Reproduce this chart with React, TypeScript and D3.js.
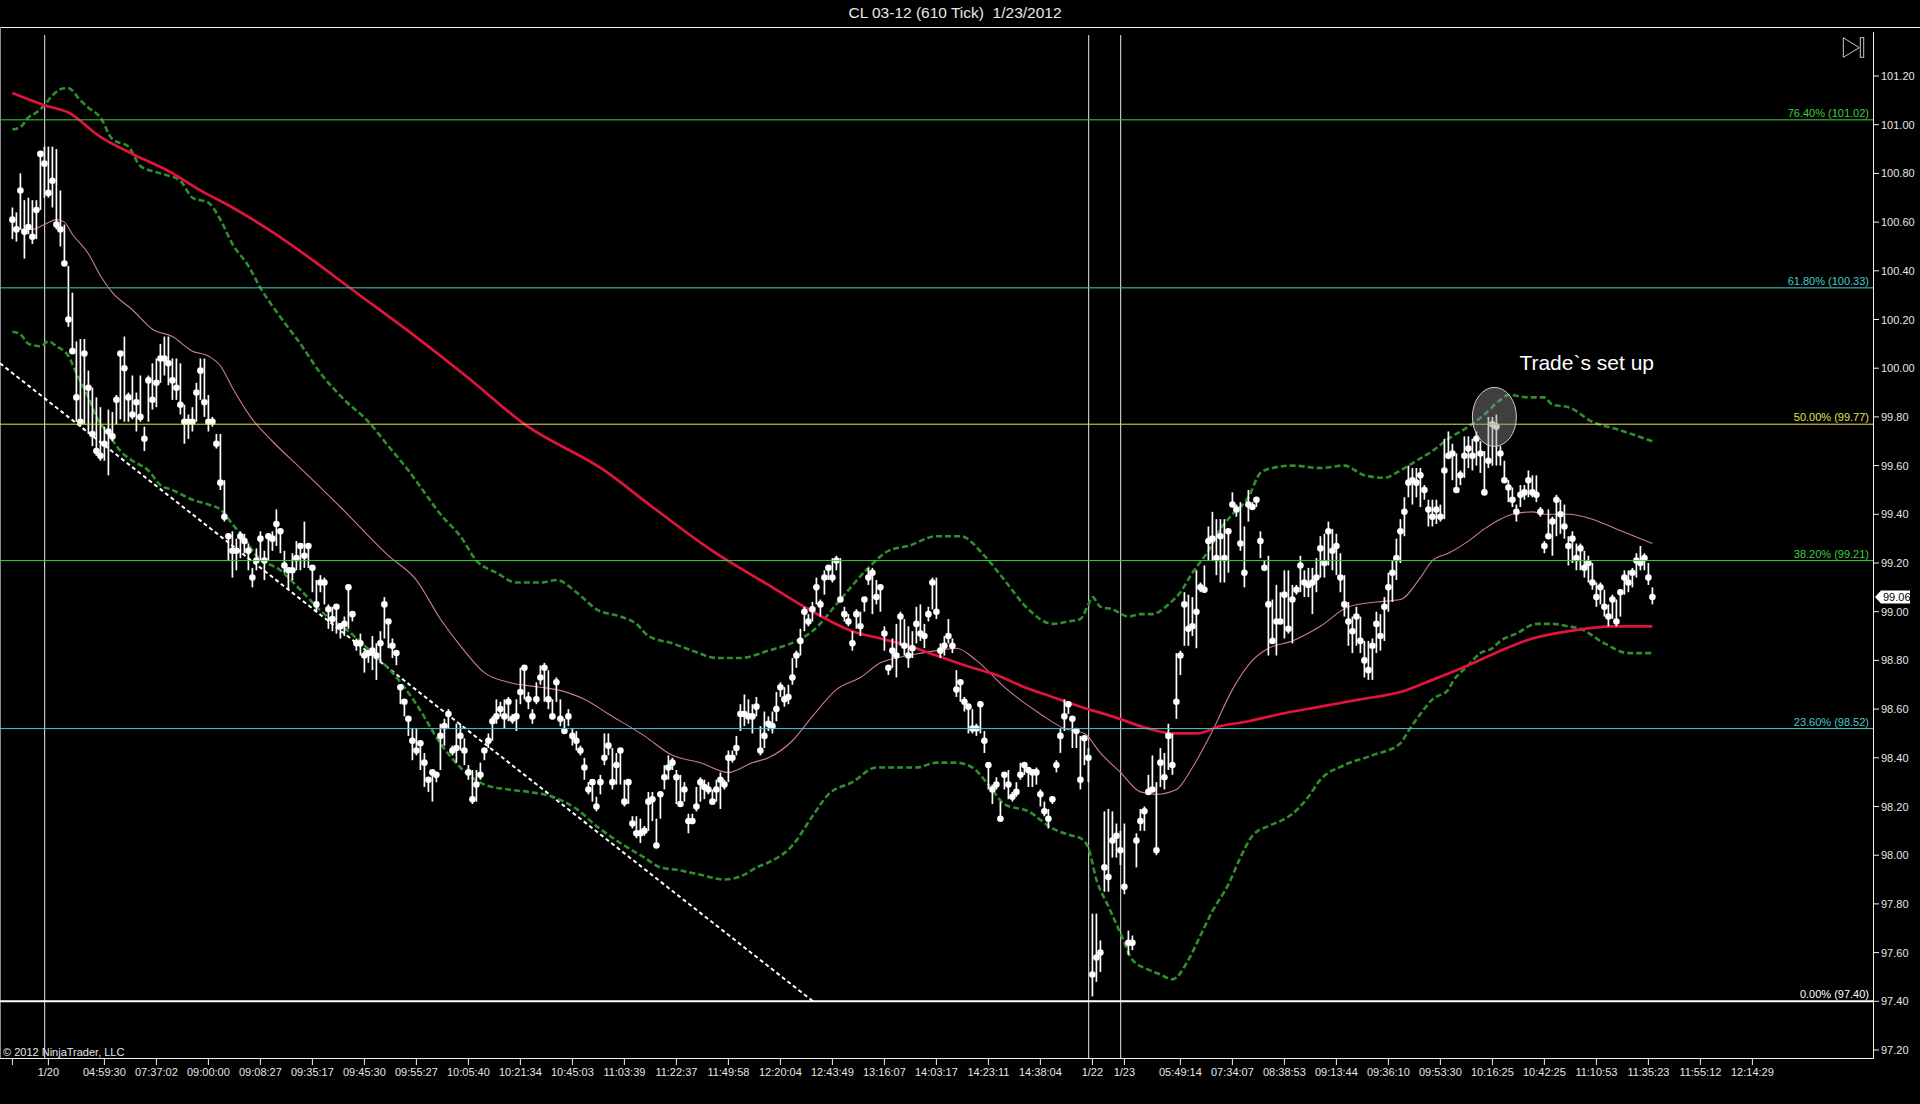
import { curveMonotoneX, line, scaleLinear } from 'd3'

// closing price of every 610-tick bar
const closes = [
  100.61, 100.57, 100.73, 100.56, 100.58, 100.54, 100.65, 100.88, 100.84, 100.72,
  100.77, 100.59, 100.57, 100.43, 100.2, 100.07, 99.88, 99.78, 100.06, 99.92,
  99.73, 99.66, 99.64, 99.69, 99.74, 99.72, 99.87, 100.06, 100.0, 99.88,
  99.81, 99.86, 99.8, 99.71, 99.95, 99.87, 99.94, 100.04, 100.04, 100.02,
  99.95, 99.92, 99.85, 99.78, 99.78, 99.78, 99.9, 99.99, 99.86, 99.78,
  99.78, 99.69, 99.53, 99.39, 99.31, 99.25, 99.25, 99.31, 99.29, 99.25,
  99.14, 99.21, 99.3, 99.21, 99.31, 99.3, 99.36, 99.33, 99.19, 99.17,
  99.17, 99.22, 99.27, 99.23, 99.27, 99.18, 99.03, 99.12, 99.12, 99.01,
  98.97, 99.02, 98.94, 98.95, 99.1, 98.99, 98.87, 98.87, 98.82, 98.83,
  98.84, 98.82, 98.87, 99.03, 98.96, 98.86, 98.83, 98.69, 98.63, 98.56,
  98.47, 98.43, 98.46, 98.38, 98.31, 98.34, 98.33, 98.49, 98.53, 98.58,
  98.43, 98.44, 98.49, 98.43, 98.34, 98.23, 98.29, 98.33, 98.43, 98.47,
  98.55, 98.57, 98.6, 98.57, 98.63, 98.56, 98.57, 98.67, 98.77, 98.64,
  98.57, 98.64, 98.73, 98.77, 98.64, 98.57, 98.71, 98.56, 98.51, 98.57,
  98.49, 98.47, 98.43, 98.36, 98.27, 98.3, 98.2, 98.3, 98.4, 98.45,
  98.3, 98.37, 98.43, 98.22, 98.3, 98.13, 98.09, 98.09, 98.1, 98.22,
  98.23, 98.04, 98.25, 98.32, 98.36, 98.38, 98.32, 98.21, 98.27, 98.14,
  98.14, 98.2, 98.3, 98.28, 98.27, 98.22, 98.27, 98.31, 98.29, 98.4,
  98.4, 98.44, 98.58, 98.58, 98.57, 98.57, 98.61, 98.43, 98.49, 98.54,
  98.53, 98.6, 98.69, 98.64, 98.65, 98.73, 98.82, 98.88, 99.0, 98.96,
  99.01, 99.1, 99.03, 99.14, 99.18, 99.14, 99.21, 99.05, 98.99, 98.96,
  98.87, 98.99, 98.94, 99.05, 99.14, 99.16, 99.06, 99.1, 98.91, 98.77,
  98.84, 98.82, 98.98, 98.86, 98.82, 98.85, 98.95, 98.91, 98.9, 98.99,
  99.12, 99.0, 98.84, 98.86, 98.9, 98.86, 98.68, 98.71, 98.63, 98.61,
  98.52, 98.52, 98.62, 98.47, 98.37, 98.27, 98.29, 98.15, 98.33, 98.29,
  98.24, 98.26, 98.33, 98.37, 98.35, 98.34, 98.34, 98.25, 98.18, 98.15,
  98.23, 98.37, 98.49, 98.57, 98.62, 98.56, 98.51, 98.31, 98.48, 98.4,
  97.51, 97.58, 97.6, 97.95, 97.91, 98.06, 98.08, 98.02, 97.87, 97.64,
  97.64, 98.06, 98.14, 98.18, 98.26, 98.27, 98.02, 98.38, 98.32, 98.49,
  98.37, 98.63, 98.82, 99.03, 98.93, 98.94, 99.0, 99.1, 99.09, 99.29,
  99.3, 99.22, 99.31, 99.22, 99.33, 99.44, 99.42, 99.28, 99.16, 99.44,
  99.43, 99.46, 99.29, 99.18, 99.03, 98.88, 98.96, 98.96, 99.07, 98.93,
  99.05, 99.09, 99.19, 99.12, 99.11, 99.12, 99.14, 99.26, 99.2, 99.33,
  99.25, 99.27, 99.14, 99.03, 98.96, 98.92, 98.98, 98.88, 98.8, 98.76,
  98.86, 98.95, 98.9, 99.02, 99.1, 99.16, 99.22, 99.33, 99.41, 99.53,
  99.54, 99.53, 99.56, 99.5, 99.42, 99.39, 99.42, 99.39, 99.58, 99.64,
  99.65, 99.5, 99.56, 99.64, 99.67, 99.64, 99.71, 99.65, 99.49, 99.62,
  99.77, 99.76, 99.65, 99.54, 99.51, 99.46, 99.41, 99.48, 99.49, 99.54,
  99.49, 99.48, 99.41, 99.27, 99.31, 99.37, 99.46, 99.4, 99.35, 99.27,
  99.3, 99.22, 99.26, 99.18, 99.2, 99.12, 99.06, 99.1, 99.02, 98.98,
  99.05, 98.96, 99.08, 99.14, 99.12, 99.16, 99.21, 99.2, 99.22, 99.14, 99.06,
]

// high above close, in cents
const highOffsets = [
  5, 7, 7, 13, 12, 15, 4, 1, 7, 19, 14, 31, 16, 16, 22, 24, 23, 34, 6, 7,
  19, 22, 20, 7, 9, 10, 2, 1, 13, 2, 16, 4, 17, 5, 2, 15, 10, 6, 9, 11,
  9, 12, 17, 7, 3, 6, 4, 5, 18, 11, 2, 4, 20, 15, 1, 8, 5, 2, 3, 3,
  4, 5, 3, 4, 1, 3, 6, 1, 6, 1, 7, 7, 1, 14, 1, 1, 10, 3, 2, 2,
  5, 1, 1, 3, 1, 1, 2, 4, 2, 1, 6, 5, 5, 3, 1, 3, 1, 1, 1, 1,
  5, 9, 1, 4, 1, 1, 1, 5, 3, 2, 2, 10, 5, 5, 3, 12, 6, 5, 1, 3,
  2, 7, 3, 7, 2, 2, 7, 10, 1, 3, 3, 7, 5, 2, 12, 7, 2, 8, 5, 3,
  3, 4, 2, 4, 3, 1, 4, 3, 10, 5, 14, 5, 1, 9, 1, 3, 7, 6, 2, 4,
  3, 11, 1, 5, 5, 2, 3, 12, 3, 3, 3, 8, 2, 3, 3, 5, 4, 3, 2, 3,
  3, 5, 4, 8, 7, 5, 4, 10, 10, 3, 6, 7, 2, 5, 5, 8, 2, 5, 2, 3,
  3, 4, 2, 3, 1, 8, 2, 17, 3, 3, 5, 2, 6, 1, 4, 2, 7, 1, 3, 1,
  5, 13, 2, 11, 12, 7, 7, 12, 5, 3, 2, 14, 3, 4, 7, 3, 8, 1, 2, 1,
  8, 2, 1, 4, 1, 2, 3, 7, 1, 6, 2, 4, 5, 1, 1, 1, 2, 2, 4, 4,
  1, 2, 3, 7, 1, 1, 1, 18, 1, 4, 25, 18, 5, 23, 28, 12, 5, 8, 26, 5,
  3, 3, 5, 2, 7, 14, 28, 6, 10, 5, 13, 20, 2, 5, 14, 12, 17, 2, 10, 6,
  11, 16, 7, 16, 1, 5, 2, 17, 19, 6, 2, 1, 4, 3, 20, 17, 15, 12, 10, 24,
  6, 2, 4, 5, 7, 6, 8, 5, 12, 4, 9, 5, 10, 12, 8, 6, 4, 10, 8, 12,
  3, 5, 9, 4, 6, 5, 8, 5, 6, 7, 5, 6, 3, 2, 4, 7, 4, 5, 13, 10,
  4, 15, 2, 8, 5, 7, 3, 5, 17, 18, 3, 5, 3, 8, 3, 5, 3, 4, 3, 4,
  7, 8, 2, 2, 11, 2, 2, 6, 9, 4, 3, 6, 2, 7, 3, 8, 6, 2, 7, 5,
  2, 9, 1, 3, 5, 2, 3, 7, 2, 6, 4,
]

// low below close, in cents
const lowOffsets = [
  8, 5, 16, 11, 3, 3, 12, 23, 14, 2, 11, 2, 7, 1, 3, 1, 10, 2, 29, 19,
  5, 2, 2, 7, 18, 2, 10, 27, 22, 10, 2, 12, 2, 5, 17, 4, 10, 10, 7, 9,
  8, 5, 4, 9, 7, 4, 12, 12, 6, 4, 2, 2, 3, 2, 10, 11, 8, 9, 5, 8,
  4, 4, 9, 8, 10, 5, 9, 9, 3, 8, 4, 5, 10, 5, 9, 10, 3, 4, 9, 8,
  5, 11, 5, 5, 17, 3, 3, 5, 7, 4, 8, 10, 8, 14, 11, 5, 5, 7, 6, 7,
  8, 2, 11, 10, 5, 12, 3, 14, 8, 6, 2, 6, 6, 6, 3, 2, 7, 2, 4, 3,
  8, 3, 3, 5, 8, 2, 6, 5, 13, 4, 3, 2, 3, 14, 4, 1, 8, 3, 1, 4,
  4, 4, 2, 5, 2, 8, 2, 5, 3, 4, 3, 8, 14, 2, 9, 2, 2, 4, 2, 12,
  9, 1, 10, 5, 5, 3, 11, 1, 5, 5, 1, 2, 8, 5, 2, 1, 5, 12, 2, 10,
  2, 3, 7, 5, 3, 7, 4, 2, 5, 3, 3, 5, 4, 3, 3, 3, 5, 6, 8, 2,
  5, 7, 5, 7, 5, 2, 4, 1, 3, 2, 3, 6, 4, 5, 3, 17, 3, 10, 7, 3,
  7, 9, 12, 4, 5, 4, 8, 3, 5, 3, 11, 3, 3, 4, 3, 3, 3, 8, 4, 11,
  2, 3, 12, 5, 10, 6, 2, 1, 6, 6, 2, 2, 2, 4, 7, 6, 5, 5, 2, 4,
  2, 3, 7, 6, 4, 12, 7, 4, 11, 10, 9, 10, 8, 10, 6, 7, 9, 6, 3, 5,
  3, 11, 4, 8, 1, 1, 2, 10, 5, 14, 4, 7, 8, 17, 7, 4, 15, 2, 1, 8,
  9, 7, 19, 10, 17, 1, 3, 3, 6, 7, 1, 3, 7, 1, 21, 1, 14, 1, 18, 2,
  18, 2, 11, 6, 5, 13, 6, 12, 6, 14, 8, 12, 6, 5, 10, 9, 12, 5, 7, 4,
  14, 12, 6, 14, 10, 12, 9, 13, 10, 6, 10, 6, 13, 4, 7, 4, 6, 2, 20, 1,
  11, 1, 4, 9, 8, 6, 11, 8, 1, 3, 17, 16, 5, 1, 6, 3, 4, 5, 3, 7,
  2, 3, 2, 3, 1, 14, 15, 8, 5, 8, 10, 5, 9, 4, 8, 3, 4, 7, 4, 4,
  8, 2, 10, 7, 4, 6, 7, 3, 5, 3, 3,
]

// indicator lines, [bar index, price]
const slowAverage = [
  [0, 101.13], [8, 101.08], [14, 101.05], [22, 100.95], [30, 100.88], [39, 100.81],
  [47, 100.73], [55, 100.66], [64, 100.57], [72, 100.48], [86, 100.31], [100, 100.14],
  [114, 99.96], [128, 99.77], [148, 99.58], [160, 99.43], [175, 99.25], [189, 99.11],
  [199, 99.01], [210, 98.92], [217, 98.89], [224, 98.86], [231, 98.82], [238, 98.78],
  [246, 98.74], [253, 98.69], [260, 98.65], [267, 98.61], [275, 98.57], [284, 98.52],
  [290, 98.5], [296, 98.5], [302, 98.53], [309, 98.55], [317, 98.58], [327, 98.61],
  [337, 98.64], [347, 98.67], [355, 98.72], [364, 98.78], [372, 98.84], [380, 98.89],
  [389, 98.92], [400, 98.94], [410, 98.94],
]

const fastAverage = [
  [0, 100.57], [5, 100.57], [8, 100.59], [11, 100.61], [13, 100.6], [15, 100.55],
  [19, 100.47], [22, 100.38], [25, 100.31], [30, 100.24], [35, 100.16], [40, 100.13],
  [45, 100.07], [49, 100.05], [52, 100.01], [55, 99.92], [60, 99.79], [65, 99.7],
  [72, 99.59], [82, 99.43], [94, 99.23], [101, 99.13], [107, 98.97], [112, 98.86],
  [118, 98.75], [124, 98.71], [132, 98.69], [136, 98.68], [143, 98.64], [149, 98.58],
  [158, 98.49], [165, 98.41], [172, 98.38], [179, 98.34], [185, 98.38], [189, 98.4],
  [195, 98.47], [200, 98.57], [206, 98.68], [212, 98.73], [217, 98.79], [224, 98.82],
  [231, 98.84], [236, 98.85], [241, 98.8], [248, 98.69], [257, 98.58], [263, 98.52],
  [268, 98.5], [272, 98.42], [277, 98.34], [282, 98.26], [286, 98.25], [291, 98.27],
  [295, 98.36], [300, 98.51], [305, 98.68], [310, 98.8], [314, 98.85], [320, 98.88],
  [327, 98.94], [334, 99.02], [341, 99.04], [347, 99.05], [352, 99.14], [355, 99.21],
  [359, 99.24], [364, 99.29], [368, 99.34], [372, 99.38], [375, 99.4], [380, 99.41],
  [383, 99.4], [389, 99.4], [395, 99.38], [401, 99.34], [410, 99.28],
]

const upperBand = [
  [0, 100.98], [2, 100.99], [4, 101.03], [6, 101.05], [8, 101.08], [10, 101.12],
  [13, 101.15], [14, 101.15], [17, 101.1], [19, 101.07], [22, 101.03], [25, 100.94],
  [29, 100.91], [32, 100.83], [37, 100.8], [42, 100.77], [45, 100.7], [49, 100.68],
  [52, 100.61], [55, 100.51], [59, 100.42], [62, 100.33], [67, 100.21], [72, 100.1],
  [77, 99.98], [83, 99.87], [89, 99.78], [94, 99.68], [99, 99.58], [103, 99.49],
  [107, 99.4], [112, 99.31], [116, 99.21], [121, 99.16], [126, 99.12], [132, 99.12],
  [136, 99.13], [141, 99.08], [146, 99.01], [152, 98.98], [156, 98.95], [159, 98.9],
  [165, 98.87], [170, 98.84], [176, 98.81], [182, 98.81], [189, 98.84], [196, 98.88],
  [200, 98.92], [207, 99.05], [214, 99.18], [219, 99.25], [224, 99.27], [231, 99.31],
  [237, 99.31], [243, 99.23], [248, 99.13], [254, 99.01], [260, 98.95], [264, 98.96],
  [267, 98.97], [269, 99.03], [270, 99.06], [272, 99.02], [275, 99.01], [279, 98.98],
  [282, 98.99], [285, 98.99], [289, 99.03], [292, 99.08], [295, 99.16], [299, 99.25],
  [302, 99.34], [305, 99.4], [309, 99.47], [312, 99.57], [315, 99.59], [320, 99.6],
  [327, 99.59], [333, 99.6], [338, 99.56], [343, 99.55], [347, 99.58], [351, 99.62],
  [355, 99.66], [359, 99.71], [364, 99.76], [368, 99.81], [372, 99.87], [374, 99.89],
  [379, 99.88], [383, 99.88], [385, 99.85], [389, 99.84], [395, 99.78], [401, 99.75],
  [410, 99.7],
]

const lowerBand = [
  [0, 100.15], [2, 100.14], [4, 100.1], [7, 100.09], [9, 100.11], [11, 100.09],
  [14, 100.05], [16, 99.98], [19, 99.88], [21, 99.8], [24, 99.73], [27, 99.66],
  [30, 99.62], [34, 99.58], [37, 99.52], [40, 99.5], [45, 99.46], [49, 99.44],
  [52, 99.42], [55, 99.36], [58, 99.3], [61, 99.23], [67, 99.17], [72, 99.09],
  [78, 98.99], [84, 98.92], [90, 98.83], [95, 98.75], [101, 98.62], [107, 98.46],
  [112, 98.36], [118, 98.29], [124, 98.27], [129, 98.26], [135, 98.24], [141, 98.19],
  [146, 98.12], [152, 98.05], [158, 97.99], [162, 97.95], [166, 97.94], [172, 97.92],
  [178, 97.9], [183, 97.92], [186, 97.95], [189, 97.97], [195, 98.04], [200, 98.16],
  [204, 98.25], [210, 98.3], [216, 98.36], [221, 98.36], [226, 98.36], [231, 98.38],
  [236, 98.38], [240, 98.36], [244, 98.29], [248, 98.21], [254, 98.18], [260, 98.11],
  [265, 98.08], [267, 98.07], [269, 98.03], [271, 97.9], [274, 97.79], [277, 97.68],
  [280, 97.57], [284, 97.53], [287, 97.51], [290, 97.49], [294, 97.57], [297, 97.67],
  [300, 97.77], [304, 97.88], [307, 97.99], [310, 98.08], [314, 98.12], [317, 98.14],
  [320, 98.17], [324, 98.24], [327, 98.31], [333, 98.37], [340, 98.41], [347, 98.46],
  [349, 98.51], [352, 98.58], [355, 98.64], [359, 98.68], [360, 98.71], [364, 98.78],
  [367, 98.83], [370, 98.85], [372, 98.88], [376, 98.91], [381, 98.95], [385, 98.95],
  [389, 98.94], [392, 98.93], [398, 98.87], [404, 98.83], [410, 98.83],
]

const trendLine = [[-3.1, 100.02], [200.15, 97.4]]

const priceTicks = [
  97.2, 97.4, 97.6, 97.8, 98.0, 98.2, 98.4, 98.6, 98.8, 99.0, 99.2,
  99.4, 99.6, 99.8, 100.0, 100.2, 100.4, 100.6, 100.8, 101.0, 101.2,
]

const timeTickBars = [
  0, 9, 23, 36, 49, 62, 75, 88, 101, 114, 127, 140, 153, 166, 179, 192, 205, 218,
  231, 244, 257, 270, 278, 292, 305, 318, 331, 344, 357, 370, 383, 396, 409, 422, 435,
]
const timeTickLabels = [
  '', '1/20', '04:59:30', '07:37:02', '09:00:00', '09:08:27', '09:35:17', '09:45:30',
  '09:55:27', '10:05:40', '10:21:34', '10:45:03', '11:03:39', '11:22:37', '11:49:58',
  '12:20:04', '12:43:49', '13:16:07', '14:03:17', '14:23:11', '14:38:04', '1/22', '1/23',
  '05:49:14', '07:34:07', '08:38:53', '09:13:44', '09:36:10', '09:53:30', '10:16:25',
  '10:42:25', '11:10:53', '11:35:23', '11:55:12', '12:14:29',
]

const sessionBreakBars = [8, 269, 277]

const fibRatios = ['76.40%', '61.80%', '50.00%', '38.20%', '23.60%', '0.00%']
const fibPrices = [101.02, 100.33, 99.77, 99.21, 98.52, 97.4]

const setupBar = 370.5
const setupPrice = 99.8

const fibColor: Record<string, string> = {
  '76.40%': '#3ccf3c',
  '61.80%': '#48c9c9',
  '50.00%': '#e2e25e',
  '38.20%': '#3ccf3c',
  '23.60%': '#48c9c9',
  '0.00%': '#ffffff',
}

const width = 1920
const height = 1104
const plot = { left: 0, right: 1873, top: 27, bottom: 1058 }
const font = '"Liberation Sans", Arial, sans-serif'

export default function App() {
  const x = scaleLinear().domain([0, closes.length - 1]).range([12.4, 12.4 + 4 * (closes.length - 1)])
  const y = scaleLinear().domain([97.2, 101.2]).range([1050, 76])

  const path = line<number[]>()
    .x((d) => x(d[0]))
    .y((d) => y(d[1]))
    .curve(curveMonotoneX)

  const lastPrice = closes[closes.length - 1]
  const lastY = y(lastPrice)

  return (
    <>
      <style>{'body{margin:0;background:#000}'}</style>
      <svg width={width} height={height} style={{ display: 'block', background: '#000' }} fontFamily={font}>
        <rect width={width} height={height} fill="#000" />

        <text x={955} y={18} fill="#e8e8e8" fontSize={15.5} textAnchor="middle" style={{ whiteSpace: 'pre' }}>
          {'CL 03-12 (610 Tick)  1/23/2012'}
        </text>

        {/* frame */}
        <line x1={0} x2={width} y1={plot.top + 0.5} y2={plot.top + 0.5} stroke="#f2f2f2" strokeWidth={1.2} />
        <line x1={0.5} x2={0.5} y1={plot.top} y2={plot.bottom} stroke="#8a8a8a" />
        <line x1={plot.right + 0.5} x2={plot.right + 0.5} y1={32} y2={plot.bottom + 0.5} stroke="#f2f2f2" />
        <line x1={0} x2={plot.right + 0.5} y1={plot.bottom + 0.5} y2={plot.bottom + 0.5} stroke="#f2f2f2" />

        {/* session breaks */}
        {sessionBreakBars.map((bar) => (
          <line
            key={bar}
            x1={x(bar) + 0.3}
            x2={x(bar) + 0.3}
            y1={35}
            y2={plot.bottom}
            stroke="#ececec"
            strokeWidth={1}
          />
        ))}

        {/* price axis */}
        {priceTicks.map((tick) => (
          <g key={tick}>
            <line x1={plot.right} x2={plot.right + 6} y1={y(tick)} y2={y(tick)} stroke="#f2f2f2" />
            <text x={plot.right + 8} y={y(tick) + 4} fill="#e6e6e6" fontSize={11}>
              {tick.toFixed(2)}
            </text>
          </g>
        ))}

        {/* time axis */}
        {timeTickBars.map((bar, i) => (
          <g key={bar}>
            <line x1={x(bar)} x2={x(bar)} y1={plot.bottom} y2={plot.bottom + 7} stroke="#f2f2f2" />
            <text x={x(bar)} y={1076} fill="#e6e6e6" fontSize={11} textAnchor="middle">
              {timeTickLabels[i]}
            </text>
          </g>
        ))}

        <text x={3} y={1056} fill="#e6e6e6" fontSize={11}>
          © 2012 NinjaTrader, LLC
        </text>

        {/* trend line */}
        <path d={line()(trendLine.map((d) => [x(d[0]), y(d[1])] as [number, number])) ?? ''}
          fill="none" stroke="#ffffff" strokeWidth={2} strokeDasharray="4 3" />

        {/* indicators */}
        <path d={path(upperBand) ?? ''} fill="none" stroke="#2f8f2f" strokeWidth={2.6} strokeDasharray="6 3" />
        <path d={path(lowerBand) ?? ''} fill="none" stroke="#2f8f2f" strokeWidth={2.6} strokeDasharray="6 3" />
        <path d={path(fastAverage) ?? ''} fill="none" stroke="#cc7c96" strokeWidth={1.1} />
        <path d={path(slowAverage) ?? ''} fill="none" stroke="#e0143c" strokeWidth={2.7} />

        {/* bars */}
        {closes.map((close, i) => (
          <g key={i}>
            <line
              x1={x(i)}
              x2={x(i)}
              y1={y(close + highOffsets[i] / 100)}
              y2={y(close - lowOffsets[i] / 100)}
              stroke="#ffffff"
              strokeWidth={1.7}
            />
            <circle cx={x(i)} cy={y(close)} r={3.3} fill="#ffffff" />
          </g>
        ))}

        {/* fibonacci levels */}
        {fibRatios.map((ratio, i) => (
          <g key={ratio}>
            <line
              x1={0}
              x2={plot.right}
              y1={y(fibPrices[i])}
              y2={y(fibPrices[i])}
              stroke={fibColor[ratio]}
              strokeWidth={ratio === '0.00%' ? 2 : 1}
            />
            <text
              x={plot.right - 4}
              y={y(fibPrices[i]) - 3}
              fill={fibColor[ratio]}
              fontSize={11}
              textAnchor="end"
            >
              {`${ratio} (${fibPrices[i].toFixed(2)})`}
            </text>
          </g>
        ))}

        {/* setup annotation */}
        <ellipse
          cx={x(setupBar)}
          cy={y(setupPrice)}
          rx={22}
          ry={29.5}
          fill="#8c8c8c"
          fillOpacity={0.45}
          stroke="#cfcfcf"
          strokeWidth={1}
        />
        <text x={x(setupBar) + 25} y={370} fill="#ffffff" fontSize={21}>
          Trade`s set up
        </text>

        {/* last price marker */}
        <path
          d={`M${plot.right + 2},${lastY} L${plot.right + 8},${lastY - 6.5} L${plot.right + 37},${lastY - 6.5} L${plot.right + 37},${lastY + 6.5} L${plot.right + 8},${lastY + 6.5} Z`}
          fill="#ffffff"
        />
        <text x={plot.right + 10} y={lastY + 4} fill="#000" fontSize={11}>
          {lastPrice.toFixed(2)}
        </text>

        {/* scroll-to-end icon */}
        <path d="M1843.3,37.7 L1859.3,47.7 L1843.3,57.3 Z" fill="none" stroke="#c8c8c8" />
        <rect x={1860.3} y={37.7} width={3.4} height={19.6} fill="none" stroke="#c8c8c8" />
      </svg>
    </>
  )
}
